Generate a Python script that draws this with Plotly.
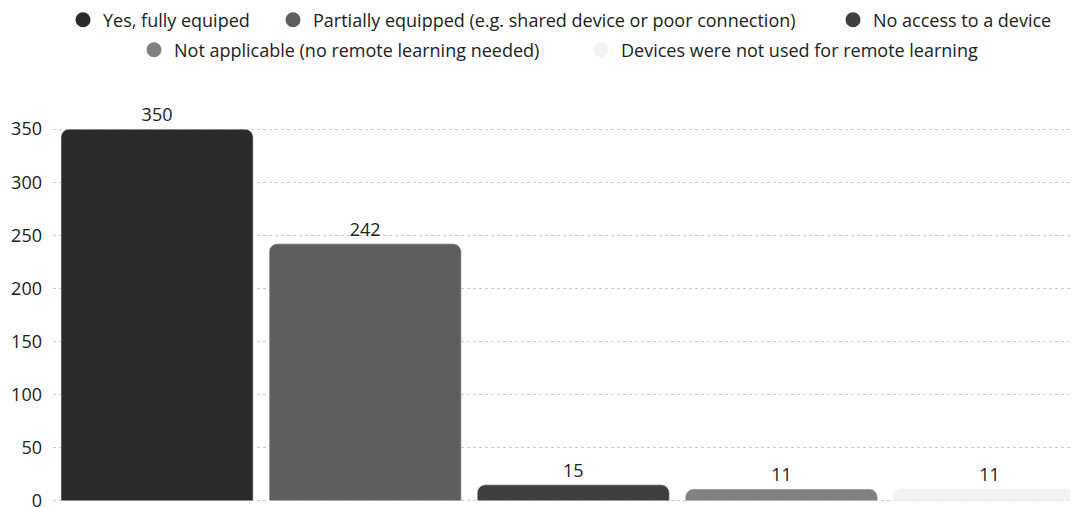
import plotly.graph_objects as go

categories = [
    "Yes, fully equiped",
    "Partially equipped (e.g. shared device or poor connection)",
    "No access to a device",
    "Not applicable (no remote learning needed)",
    "Devices were not used for remote learning",
]
values = [350, 242, 15, 11, 11]
colors = ["#2a2a2a", "#5e5e5e", "#3e3e3e", "#808080", "#f3f3f3"]

# where each legend entry sits (figure px): left edge x, centre y
legend_x = [55, 265, 825, 126, 573]
legend_y = [12, 12, 12, 42, 42]

# page body has an 8px margin, so the figure is a bit smaller than the window
W, H = 1070, 500
FONT = "Open Sans, Lato, sans-serif"

fig = go.Figure()

for i, (cat, val, c) in enumerate(zip(categories, values, colors)):
    fig.add_trace(go.Bar(
        x=[cat],
        y=[val],
        name=cat,
        marker=dict(color=c),
        text=[val],
        textposition="outside",
        textfont=dict(size=18, color="#222222"),
        cliponaxis=False,
        showlegend=False,
    ))
    lg = "legend" if i == 0 else "legend%d" % (i + 1)
    # legend entries with round markers
    fig.add_trace(go.Scatter(
        x=[None],
        y=[None],
        mode="markers",
        name=cat,
        marker=dict(color=c, size=15, symbol="circle"),
        legend=lg,
    ))

legends = {}
for i in range(len(categories)):
    key = "legend" if i == 0 else "legend%d" % (i + 1)
    legends[key] = dict(
        orientation="h",
        xref="container",
        yref="container",
        x=legend_x[i] / W,
        y=1 - legend_y[i] / H,
        xanchor="left",
        yanchor="middle",
        font=dict(family=FONT, size=18, color="#222222"),
        bgcolor="rgba(0,0,0,0)",
    )

fig.update_layout(
    width=W,
    height=H,
    margin=dict(l=45, r=0, t=101, b=3),
    paper_bgcolor="white",
    plot_bgcolor="white",
    font=dict(family=FONT, size=18, color="#222222"),
    bargap=0.077,
    barcornerradius=8,
    showlegend=True,
    **legends,
)

fig.update_xaxes(
    range=[-0.5, 4.425],
    showticklabels=False,
    showgrid=False,
    showline=False,
    zeroline=False,
)
fig.update_yaxes(
    range=[-4, 369],
    tickvals=[0, 50, 100, 150, 200, 250, 300, 350],
    showgrid=True,
    gridcolor="#c8c8c8",
    griddash="dot",
    gridwidth=1,
    zeroline=False,
    showline=False,
    tickfont=dict(family=FONT, size=18, color="#222222"),
    ticks="",
    ticklabelstandoff=10,
    ticklabeloverflow="allow",
    automargin=False,
)

fig.write_html("out.html")
